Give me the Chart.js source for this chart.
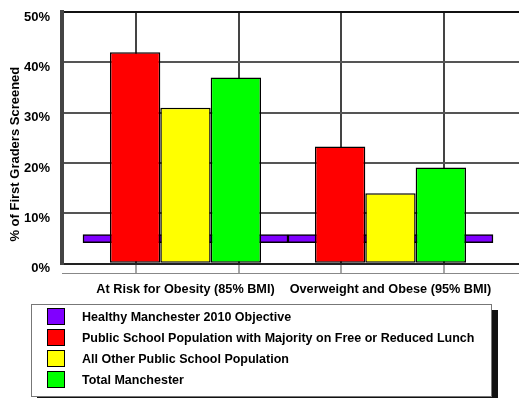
<!DOCTYPE html>
<html>
<head>
<meta charset="utf-8">
<script src="https://cdn.jsdelivr.net/npm/chart.js@4.4.1/dist/chart.umd.min.js"></script>
<style>
  html, body { margin: 0; padding: 0; background: #fff; width: 519px; height: 398px; overflow: hidden; }
  #wrap { position: absolute; left: 0; top: 0; width: 519px; height: 309px; }
  #legend {
    position: absolute; left: 31px; top: 304px; width: 459px; height: 91px;
    border: 1px solid #777; background: #fff; box-shadow: 6px 6px 0 #111;
    font: bold 12.5px Arial, "Liberation Sans", sans-serif; color: #000;
  }
  .item { position: absolute; left: 15px; height: 17px; display: flex; align-items: center; white-space: nowrap; }
  .sw { width: 18px; height: 17px; box-sizing: border-box; border: 1px solid #000; flex: none; }
  .lab { margin-left: 17px; }
</style>
</head>
<body>
<div id="wrap"><canvas id="c"></canvas></div>
<div id="legend"></div>
<script>
// ---- data ----
const categories = ['At Risk for Obesity (85% BMI)', 'Overweight and Obese (95% BMI)'];
const seriesNames = [
  'Healthy Manchester 2010 Objective',
  'Public School Population with Majority on Free or Reduced Lunch',
  'All Other Public School Population',
  'Total Manchester'
];
const objective = [5, 5];
const freeLunch = [42, 23.3];
const otherPublic = [31, 14];
const totalManchester = [37, 19.1];
const yTicks = [0, 10, 20, 30, 40, 50];

// ---- styling / layout constants ----
const FONT = 'Arial, "Liberation Sans", sans-serif';
const colors = ['#8000ff', '#ff0000', '#ffff00', '#00ff00'];
const OBJ_HALF = 0.8;            // half thickness of the objective marker (in % units)
const X_MIN = -0.6024, X_MAX = 1.627;
const GRID_X = [-0.24, 0.26, 0.76, 1.26];

const pts = (arr) => arr.map((v, i) => ({ x: i, y: v }));
const objPts = objective.map((v, i) => ({ x: i, y: [v - OBJ_HALF, v + OBJ_HALF] }));

const barStyle = { borderColor: '#000', borderWidth: 1.5, borderSkipped: false,
  categoryPercentage: 0.737, barPercentage: 1.0, xAxisID: 'x', order: 0 };

const chart = new Chart(document.getElementById('c'), {
  type: 'bar',
  data: {
    datasets: [
      { label: seriesNames[0], data: objPts, backgroundColor: colors[0], borderColor: '#000',
        borderWidth: 1.5, borderSkipped: false, grouped: false, categoryPercentage: 1, barPercentage: 1,
        xAxisID: 'x', order: 1 },
      Object.assign({ label: seriesNames[1], data: pts(freeLunch), backgroundColor: colors[1] }, barStyle),
      Object.assign({ label: seriesNames[2], data: pts(otherPublic), backgroundColor: colors[2] }, barStyle),
      Object.assign({ label: seriesNames[3], data: pts(totalManchester), backgroundColor: colors[3] }, barStyle)
    ]
  },
  options: {
    responsive: true,
    maintainAspectRatio: false,
    animation: false,
    layout: { padding: { top: 12, right: 0, bottom: 4, left: 0 } },
    plugins: { legend: { display: false }, tooltip: { enabled: false }, title: { display: false } },
    scales: {
      xg: {
        type: 'linear', position: 'bottom', weight: 0, min: X_MIN, max: X_MAX, offset: false,
        afterBuildTicks: (s) => { s.ticks = GRID_X.map(v => ({ value: v })); },
        ticks: { display: false },
        grid: { display: true, offset: false, color: '#444', lineWidth: 2, drawTicks: true, tickLength: 10,
                tickColor: '#888', tickWidth: 1.5 },
        border: { display: true, color: '#222', width: 2 }
      },
      x: {
        type: 'linear', position: 'bottom', weight: 1, min: X_MIN, max: X_MAX, offset: false,
        afterBuildTicks: (s) => { s.ticks = categories.map((c, i) => ({ value: i })); },
        ticks: { autoSkip: false, maxRotation: 0, padding: 8, color: '#000',
                 font: { family: FONT, size: 12.7, weight: 'bold' },
                 callback: (v, i) => categories[i] },
        grid: { display: false, drawTicks: false, offset: false },
        border: { display: true, color: '#888', width: 1 }
      },
      y: {
        type: 'linear', min: 0, max: 50,
        afterBuildTicks: (s) => { s.ticks = yTicks.map(v => ({ value: v })); },
        afterFit: (s) => { s.width = 62; s.paddingTop = 0; s.paddingBottom = 0; },
        ticks: { padding: 12, labelOffset: 5, color: '#000',
                 font: { family: FONT, size: 13, weight: 'bold' },
                 callback: (v) => v + '%' },
        grid: { drawTicks: false, lineWidth: 2,
                color: (ctx) => (ctx.tick && ctx.tick.value === 50) ? '#111' : '#555' },
        border: { display: true, color: '#444', width: 4 },
        title: { display: true, text: '% of First Graders Screened         ', color: '#000',
                 padding: { top: 8, bottom: 0 },
                 font: { family: FONT, size: 13, weight: 'bold' } }
      }
    }
  }
});

// HTML legend built from the chart's datasets
const legendEl = document.getElementById('legend');
chart.data.datasets.forEach((ds, i) => {
  const row = document.createElement('div');
  row.className = 'item';
  row.style.top = (3 + i * 21) + 'px';
  const sw = document.createElement('span');
  sw.className = 'sw';
  sw.style.background = ds.backgroundColor;
  const lab = document.createElement('span');
  lab.className = 'lab';
  lab.textContent = ds.label;
  row.appendChild(sw); row.appendChild(lab);
  legendEl.appendChild(row);
});
</script>
</body>
</html>
